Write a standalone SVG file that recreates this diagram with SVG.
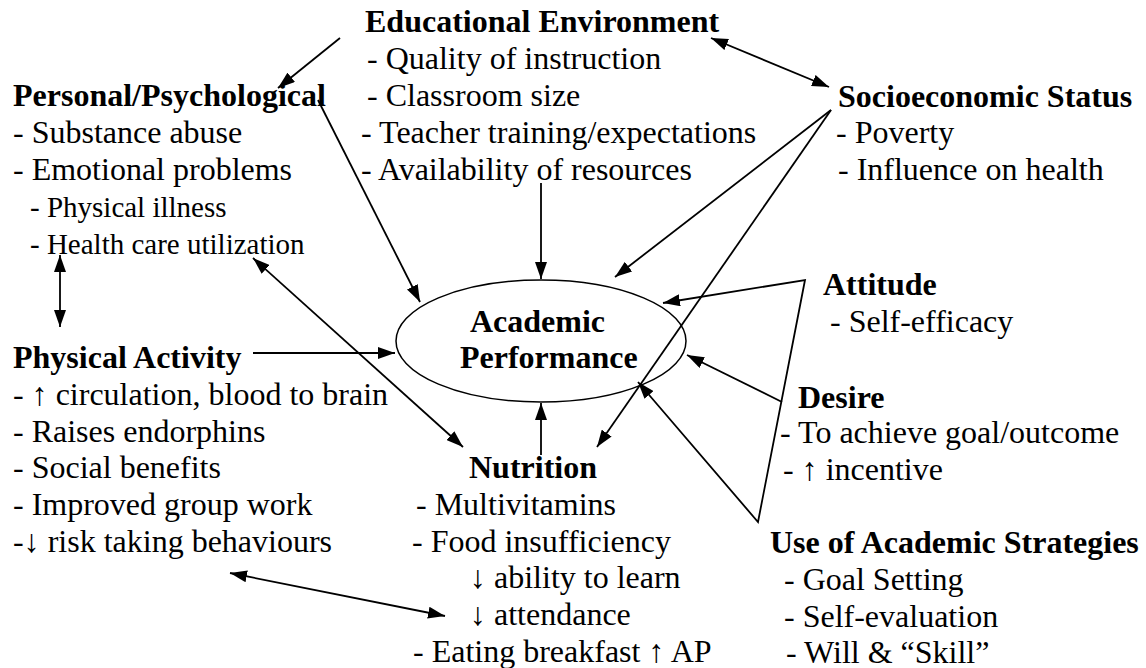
<svg xmlns="http://www.w3.org/2000/svg" width="1146" height="668" viewBox="0 0 1146 668">
<style>
text{font-family:"Liberation Serif","Times New Roman",serif;font-size:32px;fill:#000}
.h{font-weight:bold}
.s{font-size:29px}
.c{fill:none;stroke:#000;stroke-width:1.8}
</style>
<defs>
<marker id="ah" markerUnits="userSpaceOnUse" markerWidth="18" markerHeight="12" refX="17" refY="6" orient="auto-start-reverse"><path d="M0,0 L17,6 L0,12 z" fill="#000"/></marker>
</defs>
<rect width="1146" height="668" fill="#fff"/>

<g id="connectors" class="c">
<path d="M340,38 L278,88" marker-end="url(#ah)"/>
<path d="M711,38 L829,87" marker-start="url(#ah)" marker-end="url(#ah)"/>
<path d="M318,100 L420,302" marker-end="url(#ah)"/>
<path d="M541,183 L541,279" marker-end="url(#ah)"/>
<path d="M831,110 L615,277" marker-end="url(#ah)"/>
<path d="M831,110 L597,447" marker-end="url(#ah)"/>
<path d="M60,255 L60,327" marker-start="url(#ah)" marker-end="url(#ah)"/>
<path d="M253,258 L463,447" marker-start="url(#ah)" marker-end="url(#ah)"/>
<path d="M253,353 L395,353" marker-end="url(#ah)"/>
<path d="M541,455 L541,403" marker-end="url(#ah)"/>
<path d="M663,303 L805,280 L758,522 L638,382" marker-start="url(#ah)" marker-end="url(#ah)"/>
<path d="M782,402 L687,355" marker-end="url(#ah)"/>
<path d="M230,573 L445,616" marker-start="url(#ah)" marker-end="url(#ah)"/>
</g>

<g id="academic-performance">
<ellipse cx="541" cy="341" rx="145" ry="61" fill="none" stroke="#000" stroke-width="1.5"/>
<text class="h" x="470" y="332">Academic</text>
<text class="h" x="460" y="368">Performance</text>
</g>

<g id="educational-environment">
<text class="h" x="365" y="32">Educational Environment</text>
<text x="367" y="69">- Quality of instruction</text>
<text x="367" y="106">- Classroom size</text>
<text x="361" y="143">- Teacher training/expectations</text>
<text x="361" y="180">- Availability of resources</text>
</g>

<g id="personal-psychological">
<text class="h" x="13" y="106">Personal/Psychological</text>
<text x="13" y="143">- Substance abuse</text>
<text x="13" y="180">- Emotional problems</text>
<text class="s" x="30" y="217">- Physical illness</text>
<text class="s" x="30" y="254">- Health care utilization</text>
</g>

<g id="socioeconomic-status">
<text class="h" x="838" y="107">Socioeconomic Status</text>
<text x="836" y="143">- Poverty</text>
<text x="838" y="180">- Influence on health</text>
</g>

<g id="attitude">
<text class="h" x="823" y="295">Attitude</text>
<text x="830" y="332">- Self-efficacy</text>
</g>

<g id="physical-activity">
<text class="h" x="13" y="368">Physical Activity</text>
<text x="13" y="405">- ↑ circulation, blood to brain</text>
<text x="13" y="442">- Raises endorphins</text>
<text x="13" y="478">- Social benefits</text>
<text x="13" y="515">- Improved group work</text>
<text x="13" y="552">-↓ risk taking behaviours</text>
</g>

<g id="desire">
<text class="h" x="798" y="408">Desire</text>
<text x="780" y="443">- To achieve goal/outcome</text>
<text x="783" y="480">- ↑ incentive</text>
</g>

<g id="nutrition">
<text class="h" x="469" y="478">Nutrition</text>
<text x="416" y="515">- Multivitamins</text>
<text x="412" y="552">- Food insufficiency</text>
<text x="470" y="588">↓ ability to learn</text>
<text x="470" y="625">↓ attendance</text>
<text x="413" y="662">- Eating breakfast ↑ AP</text>
</g>

<g id="academic-strategies">
<text class="h" x="770" y="553">Use of Academic Strategies</text>
<text x="784" y="590">- Goal Setting</text>
<text x="784" y="627">- Self-evaluation</text>
<text x="786" y="663">- Will &amp; “Skill”</text>
</g>
</svg>
